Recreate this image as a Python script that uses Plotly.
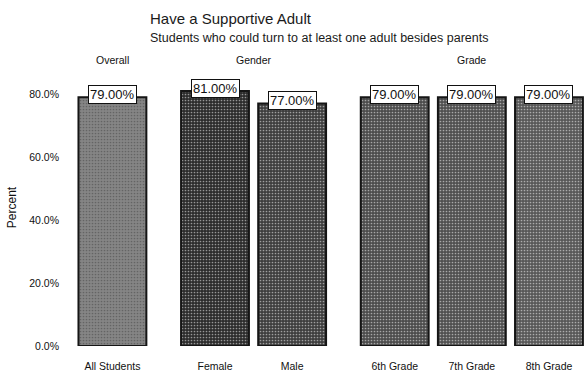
import plotly.graph_objects as go

# Survey results: share of students with a supportive adult besides parents
groups = ["Overall", "Gender", "Gender", "Grade", "Grade", "Grade"]
categories = ["All Students", "Female", "Male", "6th Grade", "7th Grade", "8th Grade"]
percent = [79.0, 81.0, 77.0, 79.0, 79.0, 79.0]
bar_colors = ["#858585", "#2c2c2c", "#3e3e3e", "#4c4c4c", "#505050", "#585858"]
grain_colors = ["#b5b5b5", "#6a6a6a", "#767676", "#858585", "#8a8a8a", "#909090"]
y_ticks = [0, 20, 40, 60, 80]

FONT = "Liberation Sans, Arial, sans-serif"
W, H = 586, 378
M_L, M_R, M_T, M_B = 70, 0, 69, 32
plot_w = W - M_L - M_R
plot_h = H - M_T - M_B

# Place bars on a numeric axis, leaving extra room between groups
GROUP_GAP = 0.33
xpos = []
pos = 0.0
for i, g in enumerate(groups):
    if i > 0:
        pos += 1.0 + (GROUP_GAP if g != groups[i - 1] else 0.0)
    xpos.append(pos)

fig = go.Figure()
fig.add_trace(go.Bar(
    x=xpos,
    y=percent,
    width=0.88,
    marker=dict(
        color=bar_colors,
        line=dict(color="#151515", width=2),
        pattern=dict(shape=".", fgcolor=grain_colors, size=3, solidity=0.25,
                     fillmode="overlay"),
    ),
    hoverinfo="skip",
    showlegend=False,
))

# Value labels in white boxes at the bar tops
for x, v in zip(xpos, percent):
    fig.add_annotation(
        x=x, y=v, xref="x", yref="y",
        text=f"{v:.2f}%", showarrow=False,
        yanchor="middle", yshift=3,
        font=dict(family=FONT, size=13, color="#111"),
        bgcolor="white", bordercolor="#111", borderwidth=1, borderpad=1,
    )

# Group headings above the bars
seen = {}
for g, x in zip(groups, xpos):
    seen.setdefault(g, []).append(x)
for g, xs in seen.items():
    fig.add_annotation(
        x=sum(xs) / len(xs), y=1.0, xref="x", yref="paper",
        text=g, showarrow=False, yanchor="bottom", yshift=1,
        font=dict(family=FONT, size=10.5, color="#111"),
    )


def paper_y(px):
    """Convert a pixel row (from the top of the page) to paper coordinates."""
    return (H - M_B - px) / plot_h


title_x = (148 - M_L) / plot_w
fig.add_annotation(
    x=title_x, y=paper_y(18), xref="paper", yref="paper",
    text="Have a Supportive Adult", showarrow=False,
    xanchor="left", yanchor="middle",
    font=dict(family=FONT, size=15, color="#1a1a1a"),
)
fig.add_annotation(
    x=title_x, y=paper_y(38), xref="paper", yref="paper",
    text="Students who could turn to at least one adult besides parents", showarrow=False,
    xanchor="left", yanchor="middle",
    font=dict(family=FONT, size=12.5, color="#1a1a1a"),
)

fig.update_layout(
    width=W, height=H,
    margin=dict(l=M_L, r=M_R, t=M_T, b=M_B),
    paper_bgcolor="white", plot_bgcolor="white",
    font=dict(family=FONT, color="#222"),
    bargap=0.1,
)
fig.update_xaxes(
    range=[xpos[0] - 0.55, xpos[-1] + 0.48],
    tickmode="array", tickvals=xpos, ticktext=categories,
    tickfont=dict(size=10.5, color="#111"),
    ticklabelstandoff=12,
    showline=False, showgrid=False, zeroline=False, ticks="",
)
fig.update_yaxes(
    range=[0, 88],
    tickmode="array", tickvals=y_ticks,
    ticktext=[f"{t:.1f}%" for t in y_ticks],
    tickfont=dict(size=10.5, color="#111"),
    ticklabelstandoff=10,
    title=dict(text="Percent", font=dict(size=12, color="#111"), standoff=10),
    showgrid=False, zeroline=False, showline=False, ticks="",
)

fig.write_html("out.html")
